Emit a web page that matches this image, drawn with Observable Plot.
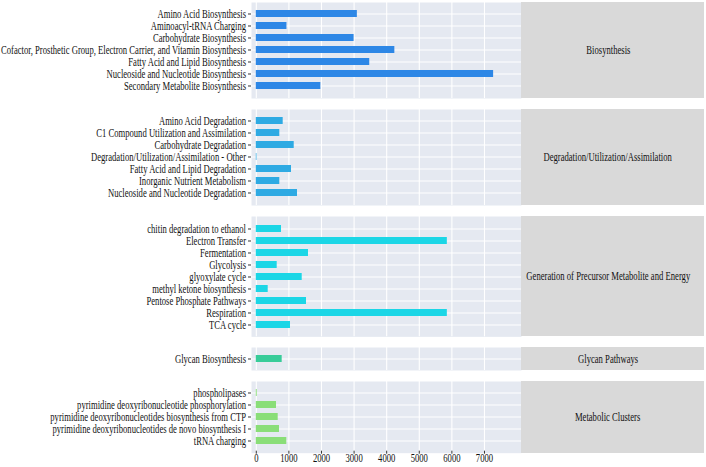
<!DOCTYPE html>
<html>
<head>
<meta charset="utf-8">
<script src="https://cdn.jsdelivr.net/npm/d3@7"></script>
<script src="https://cdn.jsdelivr.net/npm/@observablehq/plot@0.6"></script>
<style>
  body { margin: 0; background: #fff; }
  #chart { position: relative; width: 706px; height: 467px; font-family: "Liberation Serif", "Times New Roman", serif; }
  .panel { position: absolute; left: 0; }
  .strip { position: absolute; left: 521px; width: 183px; background: #d9d9d9; display: flex; align-items: center; justify-content: center; padding-right: 9px; box-sizing: border-box; }
  .strip span { display: inline-block; font-size: 11.5px; color: #111; transform: scaleX(0.75); white-space: nowrap; }
</style>
</head>
<body>
<div id="chart"></div>
<script>
// Pathway classes (facet rows) and their colours
const classes = [
  "Biosynthesis",
  "Degradation/Utilization/Assimilation",
  "Generation of Precursor Metabolite and Energy",
  "Glycan Pathways",
  "Metabolic Clusters"
];
const classColors = ["#2d87e6", "#2eaae3", "#1bd6e6", "#38cc99", "#8ade78"];

// Pathways and gene counts within each class
const biosynthesisPathways = [
  "Amino Acid Biosynthesis",
  "Aminoacyl-tRNA Charging",
  "Carbohydrate Biosynthesis",
  "Cofactor, Prosthetic Group, Electron Carrier, and Vitamin Biosynthesis",
  "Fatty Acid and Lipid Biosynthesis",
  "Nucleoside and Nucleotide Biosynthesis",
  "Secondary Metabolite Biosynthesis"
];
const biosynthesisCounts = [3100, 940, 3000, 4250, 3480, 7280, 1980];

const degradationPathways = [
  "Amino Acid Degradation",
  "C1 Compound Utilization and Assimilation",
  "Carbohydrate Degradation",
  "Degradation/Utilization/Assimilation - Other",
  "Fatty Acid and Lipid Degradation",
  "Inorganic Nutrient Metabolism",
  "Nucleoside and Nucleotide Degradation"
];
const degradationCounts = [825, 721, 1163, 20, 1080, 721, 1264];

const energyPathways = [
  "chitin degradation to ethanol",
  "Electron Transfer",
  "Fermentation",
  "Glycolysis",
  "glyoxylate cycle",
  "methyl ketone biosynthesis",
  "Pentose Phosphate Pathways",
  "Respiration",
  "TCA cycle"
];
const energyCounts = [773, 5860, 1601, 641, 1408, 365, 1540, 5860, 1049];

const glycanPathways = ["Glycan Biosynthesis"];
const glycanCounts = [794];

const clusterPathways = [
  "phospholipases",
  "pyrimidine deoxyribonucleotide phosphorylation",
  "pyrimidine deoxyribonucleotides biosynthesis from CTP",
  "pyrimidine deoxyribonucleotides de novo biosynthesis I",
  "tRNA charging"
];
const clusterCounts = [28, 620, 672, 712, 936];

const xTicks = [0, 1000, 2000, 3000, 4000, 5000, 6000, 7000];

const pathwaySets = [biosynthesisPathways, degradationPathways, energyPathways, glycanPathways, clusterPathways];
const countSets = [biosynthesisCounts, degradationCounts, energyCounts, glycanCounts, clusterCounts];

// Layout: each facet row's height grows with its number of pathways
const rowStep = 12.17;
const padInner = 0.4, padOuter = 0.645;
const gap = 11;
const panelLeft = 251, panelRight = 521;
const xDomain = [-147, 8135];
const panelBg = "#e5e9f1";

const chart = document.getElementById("chart");

// Narrow the serif labels so long pathway names fit the margin
function squeeze(svg, ratio) {
  svg.querySelectorAll('g[aria-label$="tick label"] text').forEach(t => {
    const w = t.getComputedTextLength();
    t.setAttribute("textLength", (w * ratio).toFixed(2));
    t.setAttribute("lengthAdjust", "spacingAndGlyphs");
  });
}

let panelTop = 2;
classes.forEach((cls, i) => {
  const names = pathwaySets[i];
  const data = names.map((name, j) => ({pathway: name, count: countSets[i][j]}));
  const panelH = rowStep * (names.length - padInner + 2 * padOuter);
  const last = i === classes.length - 1;
  const marginBottom = last ? 14 : 0;

  const svg = Plot.plot({
    width: panelRight,
    height: panelH + marginBottom,
    marginLeft: panelLeft,
    marginRight: 0,
    marginTop: 0,
    marginBottom,
    style: {fontFamily: '"Liberation Serif", "Times New Roman", serif', fontSize: "11.5px", background: "transparent", color: "#111", overflow: "visible"},
    x: {domain: xDomain, axis: null},
    y: {type: "band", domain: names, paddingInner: padInner, paddingOuter: padOuter, axis: null},
    marks: [
      Plot.frame({fill: panelBg, stroke: "none"}),
      Plot.gridX({ticks: xTicks, stroke: "white", strokeOpacity: 1, strokeWidth: 1.1}),
      Plot.gridY({stroke: "white", strokeOpacity: 1, strokeWidth: 1.1}),
      Plot.barX(data, {x: "count", y: "pathway", fill: classColors[i]}),
      Plot.axisY({tickSize: 3, tickPadding: 2.5, label: null, stroke: "#333", fill: "#111"}),
      last ? Plot.axisX({ticks: xTicks, tickSize: 3, tickPadding: 0, dy: -2, tickFormat: d3.format("d"), label: null, stroke: "#333", fill: "#111"}) : null
    ]
  });
  svg.classList.add("panel");
  svg.style.top = panelTop + "px";
  chart.appendChild(svg);
  squeeze(svg, 0.75);

  const strip = document.createElement("div");
  strip.className = "strip";
  strip.style.top = panelTop + "px";
  strip.style.height = panelH + "px";
  const label = document.createElement("span");
  label.textContent = cls;
  strip.appendChild(label);
  chart.appendChild(strip);

  panelTop += panelH + gap;
});
</script>
</body>
</html>
